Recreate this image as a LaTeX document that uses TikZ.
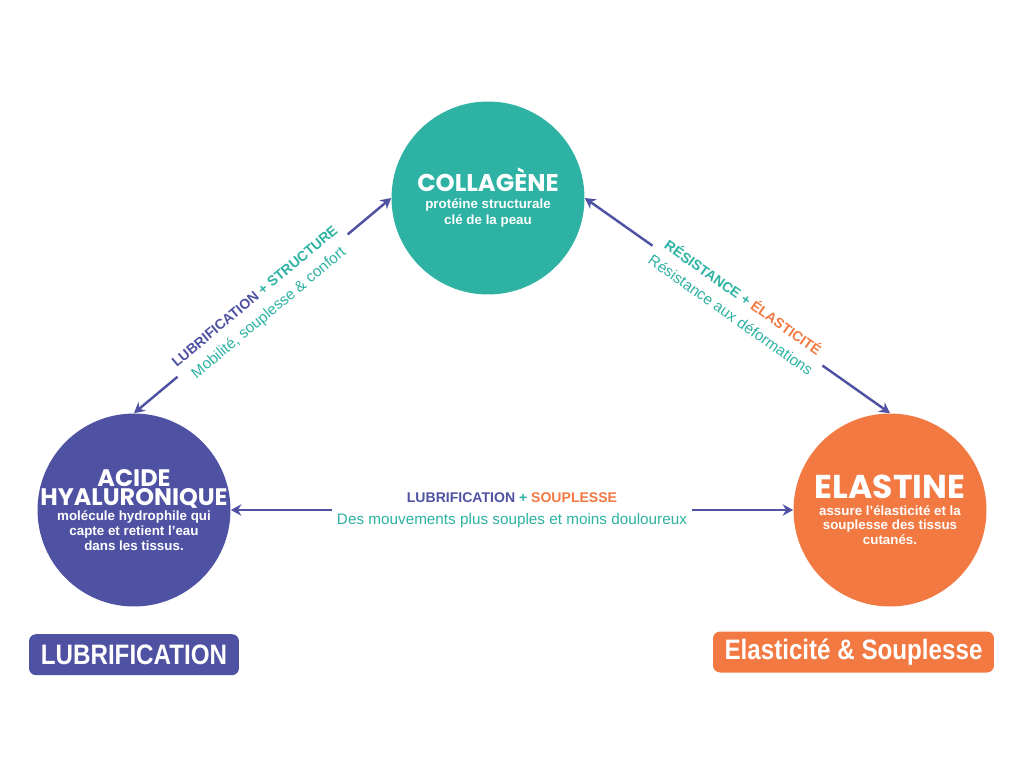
\documentclass[tikz,border=0pt]{standalone}
\usepackage{fontspec}
\setmainfont{Liberation Sans}
\newfontfamily\titlefont{Poppins}
\usepackage{graphicx}
\usetikzlibrary{arrows.meta,positioning}

\definecolor{colTeal}{HTML}{2DB2A4}
\definecolor{purp}{HTML}{4F52A3}
\definecolor{colOrange}{HTML}{F37942}
\newcommand{\lblhead}{\bfseries\fontsize{8}{12.3}\selectfont}

\begin{document}
\begin{tikzpicture}
          [x=0.02cm, y=-0.02cm,
          bubble/.style={circle, minimum size=3.86cm, inner sep=-14pt, align=center, text=white,
            font=\bfseries\fontsize{7.6}{8.4}\selectfont},
          link/.style={draw=purp, line width=1.4pt, {Stealth[length=6pt,width=6.5pt]}-{Stealth[length=6pt,width=6.5pt]}},
          lbl/.style={fill=white, align=center, inner sep=3pt, font=\fontsize{8.7}{12.3}\selectfont},
          tag/.style={rounded corners=4pt, text=white, minimum height=0.82cm, inner sep=0pt,
            font=\bfseries\fontsize{16}{16}\selectfont}]
          \useasboundingbox (0,0) rectangle (1024,768);

          % the three molecules
          \node[bubble, fill=colTeal] (collagene) at (488,198)
            {{\titlefont\bfseries\fontsize{13.8}{15}\selectfont COLLAGÈNE}\\[1pt]
             protéine structurale\\[1pt]clé de la peau};
          \node[bubble, fill=purp] (acide) at (134,510)
            {{\titlefont\bfseries\fontsize{13.6}{11.5}\selectfont ACIDE}\\
             {\titlefont\bfseries\fontsize{13.6}{11.5}\selectfont HYALURONIQUE}\\
             molécule hydrophile qui\\capte et retient l’eau\\dans les tissus.};
          \node[bubble, fill=colOrange] (elastine) at (890,510)
            {{\titlefont\bfseries\fontsize{18.8}{20}\selectfont ELASTINE}\\[1pt]
             assure l’élasticité et la\\souplesse des tissus\\cutanés.};

          % tags
          \node[tag, fill=purp, minimum width=4.2cm, below=0.54cm of acide] (lubtag)
            {\scalebox{0.86}[1]{LUBRIFICATION}};
          \node[tag, fill=colOrange, minimum width=5.62cm] (elatag) at (853.5,652)
            {\scalebox{0.86}[1]{Elasticité \& Souplesse}};

          % links
          \draw[link] (acide.north) -- node[lbl, sloped] (lstruct)
            {{\lblhead\color{purp}LUBRIFICATION \color{colTeal}+ STRUCTURE}\\
             {\color{colTeal}Mobilité, souplesse \& confort}} (collagene.west);
          \draw[link] (collagene.east) -- node[lbl, sloped] (lresist)
            {{\lblhead\color{colTeal}RÉSISTANCE + \color{colOrange}ÉLASTICITÉ}\\
             {\color{colTeal}Résistance aux déformations}} (elastine.north);
          \draw[link] (acide.east) -- node[lbl] (lsoup)
            {{\lblhead\color{purp}LUBRIFICATION \color{colTeal}+ \color{colOrange}SOUPLESSE}\\
             {\color{colTeal}Des mouvements plus souples et moins douloureux}} (elastine.west);

        \end{tikzpicture}
\end{document}
